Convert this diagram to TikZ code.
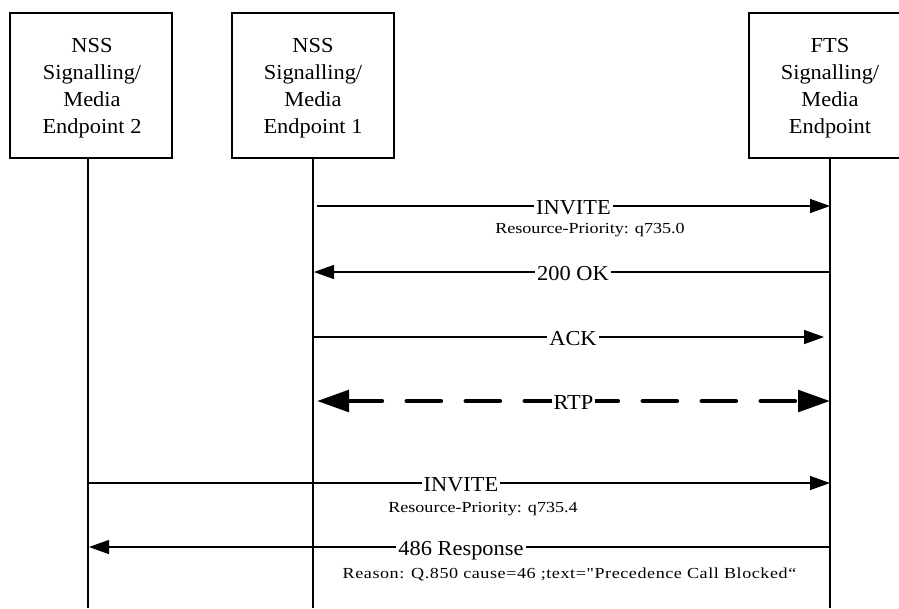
\documentclass[tikz,border=0pt]{standalone}
\usepackage{fontspec}
\setmainfont{Liberation Serif}[FakeStretch=1.05]
\newfontfamily\smallf{Liberation Serif}[FakeStretch=1.18]
\newfontfamily\reasonf{Liberation Serif}[FakeStretch=1.18,LetterSpace=3.7]
\usetikzlibrary{arrows.meta,calc}
\begin{document}
\begin{tikzpicture}[x=0.75pt,y=-0.75pt,
  entity/.style={draw,line width=1pt,minimum width=121.5pt,minimum height=108.75pt,inner sep=0pt},
  etext/.style={inner sep=0pt,align=center,font=\fontsize{16}{20.25}\selectfont},
  life/.style={line width=2pt},
  msg/.style={line width=1.1pt,-{Triangle[length=15pt,width=10.5pt]}},
  rtp/.style={line width=3.5pt,line cap=round,dash pattern=on 25.5pt off 18.75pt,{Triangle[length=24pt,width=16pt]}-{Triangle[length=24pt,width=16pt]}},
  lbl/.style={fill=white,inner xsep=1.5pt,inner ysep=2pt,anchor=base,font=\fontsize{16}{19}\selectfont},
  note/.style={inner sep=0pt,anchor=base,font=\smallf\fontsize{11.5}{14}\selectfont}]
\useasboundingbox (0,0) rectangle (899,608);

% entities
\node[entity] (b2) at (91,85.5) {};
\node[entity] (b1) at (313,85.5) {};
\node[entity] (b3) at (830,85.5) {};
\node[etext] (b2t) at ($(b2)+(1,3)$) {NSS\\Signalling/\\Media\\Endpoint 2};
\node[etext] (b1t) at ($(b1)+(0,3)$) {NSS\\Signalling/\\Media\\Endpoint 1};
\node[etext] (b3t) at ($(b3)+(0,3)$) {FTS\\Signalling/\\Media\\Endpoint};

% lifelines
\coordinate (e2) at (88,608);
\coordinate (e1) at (313,608);
\coordinate (e3) at (830,608);
\draw[life] (b2.south -| e2) -- (e2);
\draw[life] (b1.south -| e1) -- (e1);
\draw[life] (b3.south -| e3) -- (e3);

% INVITE 1
\coordinate (m1a) at (317,206);
\coordinate (m1b) at (830,206);
\draw[msg] (m1a) -- (m1b);
\node[lbl] (t1) at (573.5,214.5) {INVITE};
\node[note] (n1) at (590,233) {Resource-Priority: q735.0};

% 200 OK
\coordinate (m2a) at (830,272);
\coordinate (m2b) at (314,272);
\draw[msg] (m2a) -- (m2b);
\node[lbl] (t2) at (573,280.5) {200 OK};

% ACK
\coordinate (m3a) at (313,337);
\coordinate (m3b) at (824,337);
\draw[msg] (m3a) -- (m3b);
\node[lbl] (t3) at (573,345.5) {ACK};

% RTP
\coordinate (m4a) at (317,401);
\coordinate (m4b) at (830,401);
\draw[rtp] (m4a) -- (m4b);
\node[lbl] (t4) at (573.5,409.5) {RTP};

% INVITE 2
\coordinate (m5a) at (88,483);
\coordinate (m5b) at (830,483);
\draw[msg] (m5a) -- (m5b);
\node[lbl] (t5) at (461,491.5) {INVITE};
\node[note] (n5) at (483,512) {Resource-Priority: q735.4};

% 486 Response
\coordinate (m6a) at (830,547);
\coordinate (m6b) at (89,547);
\draw[msg] (m6a) -- (m6b);
\node[lbl] (t6) at (461,555.5) {486 Response};
\node[note,font=\reasonf\fontsize{11.5}{14}\selectfont] (n6) at (569.5,578) {Reason: Q.850 cause=46 ;text="Precedence Call Blocked“};
\end{tikzpicture}
\end{document}
